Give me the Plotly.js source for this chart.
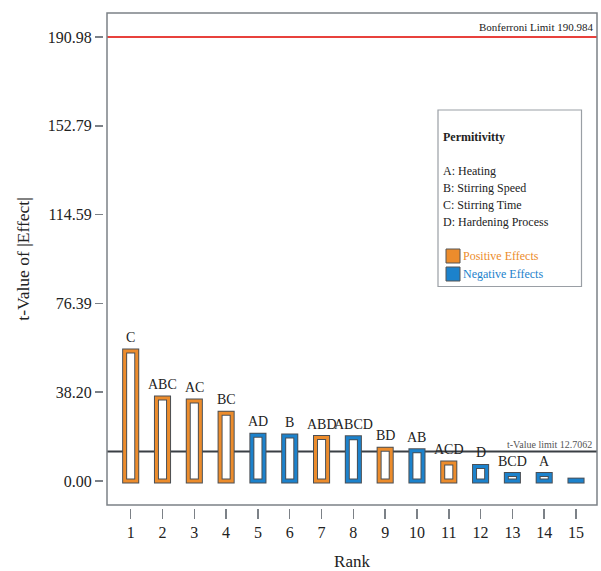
<!DOCTYPE html>
<html>
<head>
<meta charset="utf-8">
<script src="https://cdn.plot.ly/plotly-3.0.1.min.js"></script>
<style>html,body{margin:0;padding:0;background:#fff;}#chart{width:601px;height:571px;}</style>
</head>
<body>
<div id="chart"></div>
<script>
// ---- data ----
const ranks = [1,2,3,4,5,6,7,8,9,10,11,12,13,14,15];
const terms = ["C","ABC","AC","BC","AD","B","ABD","ABCD","BD","AB","ACD","D","BCD","A",""];
const tValues = [55.9,35.7,34.4,29.2,19.7,19.4,18.7,18.6,13.7,13.0,7.8,6.3,2.8,2.8,0.4];
const effectSign = ["pos","pos","pos","pos","neg","neg","pos","neg","pos","neg","pos","neg","neg","neg","neg"];
const yTickVals = [0,38.196,76.392,114.590,152.787,190.984];
const yTickText = ["0.00","38.20","76.39","114.59","152.79","190.98"];
const bonferroniLimit = 190.984;
const tValueLimit = 12.7062;
const factorNames = ["A: Heating","B: Stirring Speed","C: Stirring Time","D: Hardening Process"];

const ORANGE = "#EC8C2C";
const BLUE = "#1C82CC";
const DARK = "#4a4f55";
const AXIS = "#7c8187";
const SERIF = "Liberation Serif, Times New Roman, serif";

const colors = effectSign.map(s => s === "pos" ? ORANGE : BLUE);
const barW = 0.38;

const traces = [
  {type:"bar", x:ranks, y:tValues, width:barW,
   marker:{color:"#ffffff", line:{color:DARK, width:5}}, hoverinfo:"skip", showlegend:false},
  {type:"bar", x:ranks, y:tValues, width:barW,
   marker:{color:"rgba(255,255,255,0)", line:{color:colors, width:3}}, hoverinfo:"skip", showlegend:false}
];

const annotations = [];
ranks.forEach((r,i) => {
  if (terms[i]) annotations.push({x:r, y:tValues[i], xref:"x", yref:"y", text:terms[i],
    showarrow:false, yanchor:"bottom", yshift:4, font:{family:SERIF, size:14, color:"#222"}});
});
annotations.push({xref:"paper", yref:"y", x:1, y:bonferroniLimit, xanchor:"right", yanchor:"bottom",
  xshift:-2, yshift:2, text:"Bonferroni Limit 190.984", showarrow:false, font:{family:SERIF, size:11, color:"#222"}});
annotations.push({xref:"paper", yref:"y", x:1, y:tValueLimit, xanchor:"right", yanchor:"bottom",
  xshift:-3, yshift:0, text:"t-Value limit 12.7062", showarrow:false, font:{family:SERIF, size:10, color:"#555"}});

// legend box (paper coords computed from pixel positions)
const L = 103, T = 13, PW = 494, PH = 495;
const px = x => (x - L) / PW;
const py = y => 1 - (y - T) / PH;
annotations.push({xref:"paper", yref:"paper", x:px(441), y:py(137), xanchor:"left", yanchor:"middle",
  text:"<b>Permitivitty</b>", showarrow:false, font:{family:SERIF, size:12, color:"#222"}});
factorNames.forEach((f,i) => annotations.push({xref:"paper", yref:"paper", x:px(441), y:py(171.5 + i*16.8),
  xanchor:"left", yanchor:"middle", text:f, showarrow:false, font:{family:SERIF, size:12, color:"#222"}}));
annotations.push({xref:"paper", yref:"paper", x:px(461), y:py(256), xanchor:"left", yanchor:"middle",
  text:"Positive Effects", showarrow:false, font:{family:SERIF, size:12, color:ORANGE}});
annotations.push({xref:"paper", yref:"paper", x:px(461), y:py(274), xanchor:"left", yanchor:"middle",
  text:"Negative Effects", showarrow:false, font:{family:SERIF, size:12, color:BLUE}});

const shapes = [
  {type:"line", xref:"x domain", yref:"y", x0:0, x1:1, y0:tValueLimit, y1:tValueLimit, layer:"below",
   line:{color:"#3a3f44", width:2}},
  {type:"line", xref:"x domain", yref:"y", x0:0, x1:1, y0:bonferroniLimit, y1:bonferroniLimit,
   line:{color:"#E8413C", width:2}},
  {type:"rect", xref:"x domain", yref:"y domain", x0:0, x1:1, y0:0, y1:1, line:{color:AXIS, width:1.5}},
  {type:"rect", xref:"paper", yref:"paper", x0:px(438), x1:px(581.5), y0:py(286.5), y1:py(110),
   line:{color:"#9a9fa5", width:1.2}, fillcolor:"rgba(0,0,0,0)"},
  {type:"rect", xref:"paper", yref:"paper", x0:px(446), x1:px(460), y0:py(263), y1:py(249),
   line:{color:"#555", width:1}, fillcolor:ORANGE},
  {type:"rect", xref:"paper", yref:"paper", x0:px(446), x1:px(460), y0:py(281), y1:py(267),
   line:{color:"#555", width:1}, fillcolor:BLUE}
];

const layout = {
  width:601, height:571,
  margin:{l:L, r:4, t:T, b:63},
  paper_bgcolor:"#fff", plot_bgcolor:"#fff",
  barmode:"overlay", showlegend:false,
  font:{family:SERIF, color:"#222"},
  xaxis:{domain:[4/PW, 1], range:[0.255, 15.66], anchor:"free", position:0,
    tickmode:"array", tickvals:ranks, ticktext:ranks.map(String),
    ticks:"outside", ticklen:10, tickwidth:1.5, tickcolor:AXIS,
    showline:false, showgrid:false, zeroline:false,
    tickfont:{family:SERIF, size:16, color:"#222"},
    title:{text:"Rank", font:{family:SERIF, size:17, color:"#222"}, standoff:18}},
  yaxis:{domain:[3/PH, 1], range:[-10.3, 201.3], anchor:"free", position:0,
    tickmode:"array", tickvals:yTickVals, ticktext:yTickText,
    ticks:"outside", ticklen:8, tickwidth:1.5, tickcolor:AXIS,
    showline:false, showgrid:false, zeroline:false,
    tickfont:{family:SERIF, size:16, color:"#222"},
    title:{text:"t-Value of |Effect|", font:{family:SERIF, size:17.5, color:"#222"}, standoff:12}},
  shapes:shapes, annotations:annotations
};

Plotly.newPlot("chart", traces, layout, {staticPlot:true, displayModeBar:false});
</script>
</body>
</html>
